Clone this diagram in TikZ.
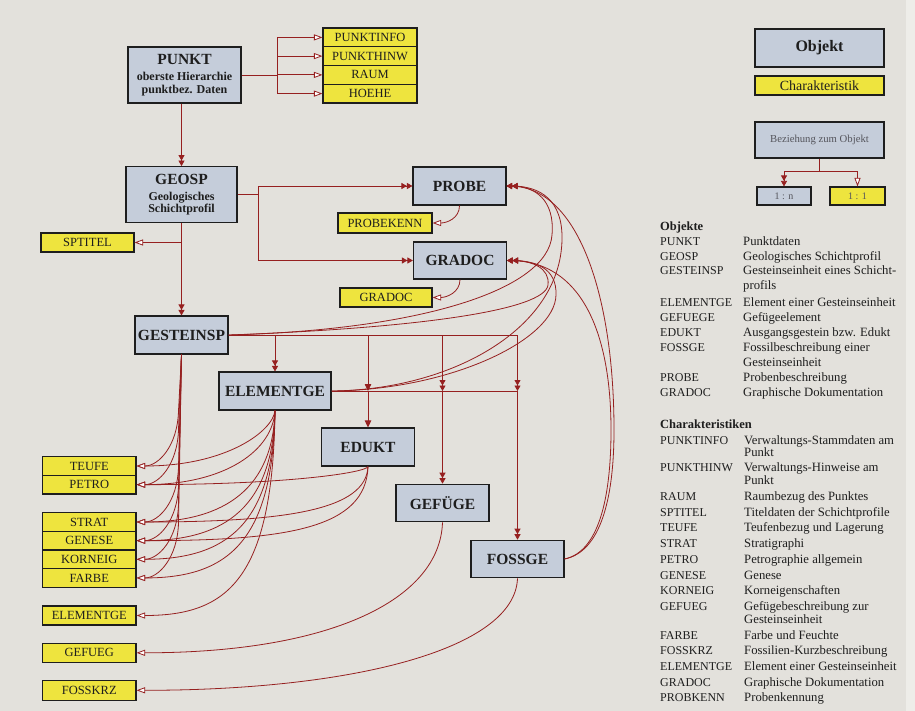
\documentclass[tikz,border=0pt]{standalone}
\usepackage{fontspec}
\setmainfont{Liberation Serif}
\usetikzlibrary{arrows.meta,calc}
\definecolor{bgpaper}{RGB}{227,225,220}
\definecolor{bgedge}{RGB}{238,237,233}
\definecolor{objfill}{RGB}{197,205,218}
\definecolor{chrfill}{RGB}{238,228,62}
\definecolor{boxline}{RGB}{30,30,30}
\definecolor{linered}{RGB}{150,32,32}
\definecolor{txt}{RGB}{30,30,30}
\definecolor{greytxt}{RGB}{85,85,92}
\newcommand\mytitle{\fontsize{15.5}{16}\selectfont\bfseries}
\newcommand\mysub{\fontsize{12}{12.5}\selectfont\bfseries}
\begin{document}
\begin{tikzpicture}[x=1pt,y={(0pt,-1pt)},
  obj/.style={draw=boxline,line width=1.1pt,fill=objfill,inner sep=0pt,align=center,text=txt,font=\mytitle,minimum width=93pt,minimum height=38pt},
  chr/.style={draw=boxline,line width=1.1pt,fill=chrfill,inner sep=0pt,text=txt,font=\fontsize{12.5}{13}\selectfont,minimum height=18.65pt,minimum width=93.5pt},
  conn/.style={draw=linered,line width=0.8pt},
  rel1/.style={conn,-{Triangle[length=8.5pt,width=6pt,fill=white]}},
  reln/.style={conn,-{Triangle[length=5.5pt,width=6pt]Triangle[length=5.5pt,width=6pt]}},
  relf/.style={conn,-{Triangle[length=7pt,width=6.5pt]}},
  lk/.style={anchor=west,inner sep=0pt,text=txt,font=\fontsize{12}{13}\selectfont,text height=8.5pt,text depth=2.5pt},
  ld/.style={lk,font=\fontsize{12.7}{13}\selectfont},
  lh/.style={lk,font=\fontsize{12.5}{13}\selectfont\bfseries},
]
\fill[bgpaper] (0,0) rectangle (915,711);
\fill[bgedge] (906,0) rectangle (915,711);

% ---------- object boxes ----------
\node[obj,font=\mysub,minimum width=113pt,minimum height=56pt] (punkt) at (184.5,75)
  {{\mytitle PUNKT}\\[3.5pt]oberste Hierarchie\\punktbez. Daten};
\node[obj,font=\mysub,minimum width=111pt,minimum height=55.5pt] (geosp) at (181.5,194.4)
  {{\mytitle GEOSP}\\[3.5pt]Geologisches\\Schichtprofil};
\node[obj] (probe) at (459.5,186) {PROBE};
\node[obj,minimum height=37pt] (gradoc) at (460,260.5) {GRADOC};
\node[obj] (ges) at (181.5,335) {GESTEINSP};
\node[obj,minimum width=112pt] (ele) at (275,391) {ELEMENTGE};
\node[obj] (edukt) at (368,447) {EDUKT};
\node[obj,minimum height=37.5pt] (gef) at (442.5,503) {GEFÜGE};
\node[obj,minimum height=37.5pt] (foss) at (517.5,559) {FOSSGE};

% ---------- characteristic boxes ----------
\node[chr,minimum width=94pt,minimum height=18.75pt] (pinfo) at (370,37.4) {PUNKTINFO};
\node[chr,minimum width=94pt,minimum height=18.75pt] (phinw) at (370,56.1) {PUNKTHINW};
\node[chr,minimum width=94pt,minimum height=18.75pt] (raum) at (370,74.9) {RAUM};
\node[chr,minimum width=94pt,minimum height=18.75pt] (hoehe) at (370,93.6) {HOEHE};
\node[chr,minimum width=93pt,minimum height=19pt] (sptitel) at (87.5,242.5) {SPTITEL};
\node[chr,minimum width=94pt,minimum height=20pt] (pkenn) at (385,223) {PROBEKENN};
\node[chr,minimum width=92pt,minimum height=19pt] (gradocy) at (386,297.5) {GRADOC};
\node[chr] (teufe) at (89.25,466) {TEUFE};
\node[chr] (petro) at (89.25,484.65) {PETRO};
\node[chr] (strat) at (89.25,522) {STRAT};
\node[chr] (genese) at (89.25,540.65) {GENESE};
\node[chr] (korneig) at (89.25,559.3) {KORNEIG};
\node[chr] (farbe) at (89.25,577.95) {FARBE};
\node[chr,minimum height=19pt] (elemy) at (89.25,615.5) {ELEMENTGE};
\node[chr,minimum height=19.5pt] (gefueg) at (89.25,652.8) {GEFUEG};
\node[chr,minimum height=19.5pt] (fosskrz) at (89.25,690.3) {FOSSKRZ};

% ---------- PUNKT connectors ----------
\coordinate (pj) at (277,75);
\draw[conn] (punkt.east) -- (pj);
\foreach \t in {pinfo,phinw,raum,hoehe}{\draw[rel1] (pj) |- (\t.west);}
\draw[reln] (punkt.south -| geosp.north) -- (geosp.north);

% ---------- GEOSP connectors ----------
\draw[reln] (geosp.south) -- (ges.north);
\draw[rel1] (geosp.south |- sptitel.east) -- (sptitel.east);
\coordinate (gj) at ($(geosp.east)+(21,0)$);
\draw[reln] (geosp.east) -- (gj) |- (probe.west);
\draw[reln] (gj) |- (gradoc.west);
\draw[rel1] (probe.south) .. controls ($(probe.south)+(0,13)$) and ($(pkenn.east)+(14,0)$) .. (pkenn.east);
\draw[rel1] (gradoc.south) .. controls ($(gradoc.south)+(0,13)$) and ($(gradocy.east)+(14,0)$) .. (gradocy.east);

% ---------- GESTEINSP / ELEMENTGE tree ----------
\draw[reln] (ges.east) -| (ele.north);
\draw[relf] (ges.east) -| (edukt.north |- ele.east);
\draw[relf] (ele.east) -| (edukt.north);
\foreach \t in {gef,foss}{
  \draw[reln] (ges.east) -| (\t.north |- ele.east);
  \draw[reln] (ele.east) -| (\t.north);
}

% ---------- curves to PROBE / GRADOC ----------
\draw[reln] (ges.east) .. controls (420,330) and (548,290) .. (552,235) .. controls (555,200) and (535,186) .. (probe.east);
\draw[reln] (ges.east) .. controls (420,328) and (545,310) .. (548,285) .. controls (550,268) and (532,260.5) .. (gradoc.east);
\draw[reln] (ele.east) .. controls (450,390) and (560,330) .. (562,240) .. controls (563,200) and (540,186) .. (probe.east);
\draw[reln] (ele.east) .. controls (450,390) and (555,340) .. (556,295) .. controls (557,268) and (535,260.5) .. (gradoc.east);
\draw[reln] (foss.east) .. controls (600,552) and (614,500) .. (614,430) .. controls (614,300) and (580,188) .. (probe.east);
\draw[reln] (foss.east) .. controls (598,552) and (611,500) .. (611,430) .. controls (611,330) and (580,262) .. (gradoc.east);

% ---------- curves to characteristics ----------
\foreach \t in {teufe,petro,strat,genese,korneig,farbe}{
  \draw[rel1] (ges.south) -- ($(ges.south |- \t.east)+(-3,-55)$)
     .. controls ($(ges.south |- \t.east)+(-4,-20)$) and ($(\t.east)+(22,0)$) .. (\t.east);
}
\foreach \t in {teufe,petro,strat,genese,korneig,farbe,elemy}{
  \draw[rel1] (ele.south) .. controls ($(ele.south |- \t.east)+(-2,-35)$) and ($(\t.east)+(90,0)$) .. (\t.east);
}
\foreach \t in {petro,strat,genese}{
  \draw[rel1] (edukt.south) .. controls ($(edukt.south |- \t.east)+(-2,-12)$) and ($(\t.east)+(150,0)$) .. (\t.east);
}
\draw[rel1] (gef.south) .. controls (440,600) and (330,652.8) .. (gefueg.east);
\draw[rel1] (foss.south) .. controls (515,650) and (350,690.3) .. (fosskrz.east);

% ---------- legend ----------
\node[obj,minimum width=129pt,minimum height=38pt,font=\fontsize{16}{17}\selectfont\bfseries] (lobj) at (819.5,48) {Objekt};
\node[chr,minimum width=129pt,minimum height=19pt,font=\fontsize{14}{15}\selectfont] (lchr) at (819.5,85.5) {Charakteristik};
\node[obj,minimum width=129pt,minimum height=36pt,font=\fontsize{10.7}{12}\selectfont,text=greytxt] (bez) at (819.5,140) {Beziehung zum Objekt};
\node[obj,minimum width=54pt,minimum height=18pt,font=\fontsize{10}{11}\selectfont,text=greytxt] (ln) at (784,196) {1 : n};
\node[chr,minimum width=55pt,minimum height=18pt,font=\fontsize{10}{11}\selectfont,text=greytxt] (l1) at (857.5,196) {1 : 1};
\coordinate (lj) at ($(bez.south)+(0,13)$);
\draw[conn] (bez.south) -- (lj);
\draw[reln] (lj) -| (ln.north);
\draw[rel1] (lj) -| (l1.north);

% ---------- Objekte list ----------
\node[lh] (ohead) at (660,228) {Objekte};
\foreach \n/\yy/\a/\b in {1/242.5/{PUNKT}/{Punktdaten},
  2/257.5/{GEOSP}/{Geologisches Schichtprofil},
  3/272/{GESTEINSP}/{Gesteinseinheit eines Schicht-},
  4/303/{ELEMENTGE}/{Element einer Gesteinseinheit},
  5/318/{GEFUEGE}/{Gefügeelement},
  6/333/{EDUKT}/{Ausgangsgestein bzw. Edukt},
  7/348/{FOSSGE}/{Fossilbeschreibung einer},
  8/378/{PROBE}/{Probenbeschreibung},
  9/393.5/{GRADOC}/{Graphische Dokumentation}}{
  \node[lk] (ok\n) at (660,\yy) {\a};
  \node[ld] (od\n) at (743,\yy) {\b};
}
\node[ld] (od3b) at (743,286.5) {profils};
\node[ld] (od7b) at (743,363) {Gesteinseinheit};

% ---------- Charakteristiken list ----------
\node[lh] (chead) at (660,425) {Charakteristiken};
\foreach \n/\yy/\a/\b in {1/441/{PUNKTINFO}/{Verwaltungs-Stammdaten am},
  2/468/{PUNKTHINW}/{Verwaltungs-Hinweise am},
  3/497.5/{RAUM}/{Raumbezug des Punktes},
  4/513/{SPTITEL}/{Titeldaten der Schichtprofile},
  5/528.5/{TEUFE}/{Teufenbezug und Lagerung},
  6/544/{STRAT}/{Stratigraphi},
  7/560/{PETRO}/{Petrographie allgemein},
  8/576/{GENESE}/{Genese},
  9/591.5/{KORNEIG}/{Korneigenschaften},
  10/607/{GEFUEG}/{Gefügebeschreibung zur},
  11/636.5/{FARBE}/{Farbe und Feuchte},
  12/651.5/{FOSSKRZ}/{Fossilien-Kurzbeschreibung},
  13/667/{ELEMENTGE}/{Element einer Gesteinseinheit},
  14/683/{GRADOC}/{Graphische Dokumentation},
  15/698/{PROBKENN}/{Probenkennung}}{
  \node[lk] (ck\n) at (660,\yy) {\a};
  \node[ld] (cd\n) at (744,\yy) {\b};
}
\node[ld] (cd1b) at (744,453.5) {Punkt};
\node[ld] (cd2b) at (744,481) {Punkt};
\node[ld] (cd10b) at (744,620.5) {Gesteinseinheit};
\end{tikzpicture}
\end{document}
